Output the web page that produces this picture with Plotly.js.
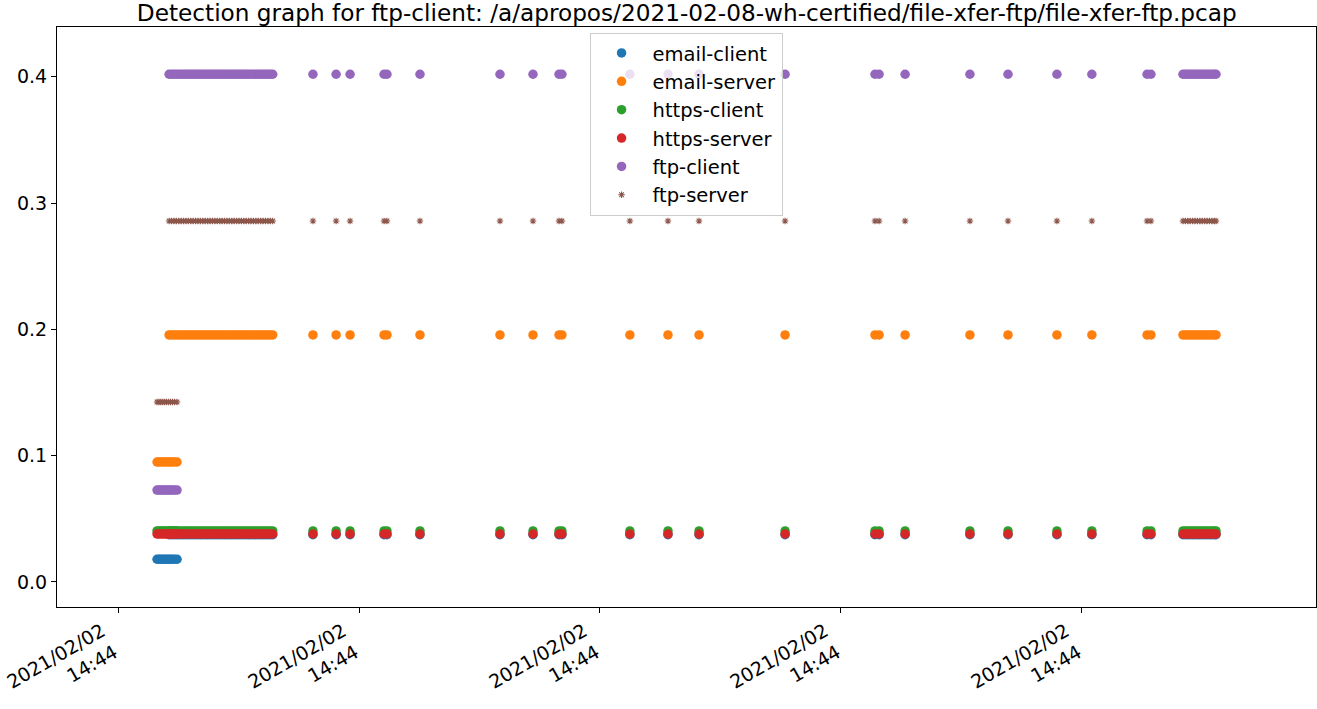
<!DOCTYPE html>
<html>
<head>
<meta charset="utf-8">
<script src="https://cdn.plot.ly/plotly-3.0.1.min.js"></script>
<style>html,body{margin:0;padding:0;background:#fff}#chart{width:1317px;height:709px}</style>
</head>
<body>
<div id="chart"></div>
<script>
// Times are seconds after 2021-02-02 14:44:00
const startupTimes = [6.62, 6.70, 6.78, 6.86, 6.94, 7.02, 7.10, 7.18, 7.26, 7.34, 7.45];
const firstRunTimes = [7.12, 7.22, 7.32, 7.42, 7.52, 7.62, 7.72, 7.82, 7.92, 8.02, 8.12, 8.22, 8.32, 8.42, 8.52,
  8.62, 8.72, 8.82, 8.92, 9.02, 9.12, 9.22, 9.32, 9.42, 9.52, 9.62, 9.72, 9.82, 9.92, 10.02, 10.12, 10.22,
  10.32, 10.42, 10.52, 10.62, 10.72, 10.82, 10.92, 11.02, 11.12, 11.22, 11.32, 11.42];
const burstTimes = [13.09, 14.05, 14.63, 16.04, 16.16, 17.53, 20.85, 22.22, 23.30, 23.42, 26.24, 27.82, 29.11,
  32.68, 36.41, 36.58, 37.66, 40.35, 41.93, 43.96, 45.41, 47.70, 47.86];
const lastRunTimes = [49.19, 49.29, 49.39, 49.49, 49.59, 49.69, 49.79, 49.89, 49.99, 50.09, 50.19, 50.29, 50.39, 50.49, 50.56];

const seriesNames = ['email-client', 'email-server', 'https-client', 'https-server', 'ftp-client', 'ftp-server'];
const startupScores = [0.018, 0.095, 0.0404, 0.038, 0.0728, 0.1425];
const steadyScores  = [0.0375, 0.1956, 0.0404, 0.038, 0.402, 0.2858];
const seriesColors = ['#1f77b4', '#ff7f0e', '#2ca02c', '#d62728', '#9467bd', '#8c564b'];

const xTickSeconds = [5, 15, 25, 35, 45];
const xRangeSeconds = [2.469, 54.71];
const yRange = [-0.0198, 0.4394];
const titleText = 'Detection graph for ftp-client: /a/apropos/2021-02-08-wh-certified/file-xfer-ftp/file-xfer-ftp.pcap';

function stamp(sec) {
  const ms = Math.round(sec * 1000);
  const s = Math.floor(ms / 1000), rem = ms % 1000;
  return '2021-02-02 14:44:' + String(s).padStart(2, '0') + '.' + String(rem).padStart(3, '0');
}

const steadyTimes = firstRunTimes.concat(burstTimes, lastRunTimes);
const traces = seriesNames.map((name, i) => {
  const xs = startupTimes.concat(steadyTimes).map(stamp);
  const ys = startupTimes.map(() => startupScores[i]).concat(steadyTimes.map(() => steadyScores[i]));
  const isStar = name === 'ftp-server';
  return {
    type: 'scatter', mode: 'markers', name: name, x: xs, y: ys,
    marker: isStar
      ? {symbol: 'asterisk-open', size: 5.5, color: seriesColors[i], line: {color: seriesColors[i], width: 1.1}}
      : {symbol: 'circle', size: 9.5, color: seriesColors[i], line: {width: 0}}
  };
});

const font = {family: 'DejaVu Sans, sans-serif', size: 19, color: '#000'};
const layout = {
  width: 1317, height: 709,
  margin: {l: 57, r: 1, t: 27, b: 102},
  paper_bgcolor: '#fff', plot_bgcolor: '#fff',
  font: font,
  showlegend: true,
  title: {text: titleText, font: {family: 'DejaVu Sans, sans-serif', size: 23.2, color: '#000'},
          x: 0.5215, xanchor: 'center', y: 0.982, yanchor: 'middle'},
  xaxis: {
    type: 'date', range: xRangeSeconds.map(stamp),
    tickmode: 'array', tickvals: xTickSeconds.map(stamp),
    ticktext: xTickSeconds.map(() => '2021/02/02<br>14:44'),
    tickangle: -30, ticks: 'outside', ticklen: 5, tickcolor: '#000', tickwidth: 1,
    ticklabelshift: -16,
    showline: true, mirror: true, linecolor: '#000', linewidth: 1,
    showgrid: false, zeroline: false, tickfont: font
  },
  yaxis: {
    range: yRange, tickmode: 'array', tickvals: [0, 0.1, 0.2, 0.3, 0.4],
    ticktext: ['0.0', '0.1', '0.2', '0.3', '0.4'],
    ticks: 'outside', ticklen: 5, tickcolor: '#000', tickwidth: 1,
    showline: true, mirror: true, linecolor: '#000', linewidth: 1,
    showgrid: false, zeroline: false, tickfont: font
  },
  legend: {
    x: 0.423, y: 0.99, xanchor: 'left', yanchor: 'top',
    bgcolor: 'rgba(255,255,255,0.8)', bordercolor: '#cccccc', borderwidth: 1,
    font: {family: 'DejaVu Sans, sans-serif', size: 19.5, color: '#000'}, itemwidth: 52, tracegroupgap: 0
  }
};

Plotly.newPlot('chart', traces, layout, {displayModeBar: false, staticPlot: true});
</script>
</body>
</html>
